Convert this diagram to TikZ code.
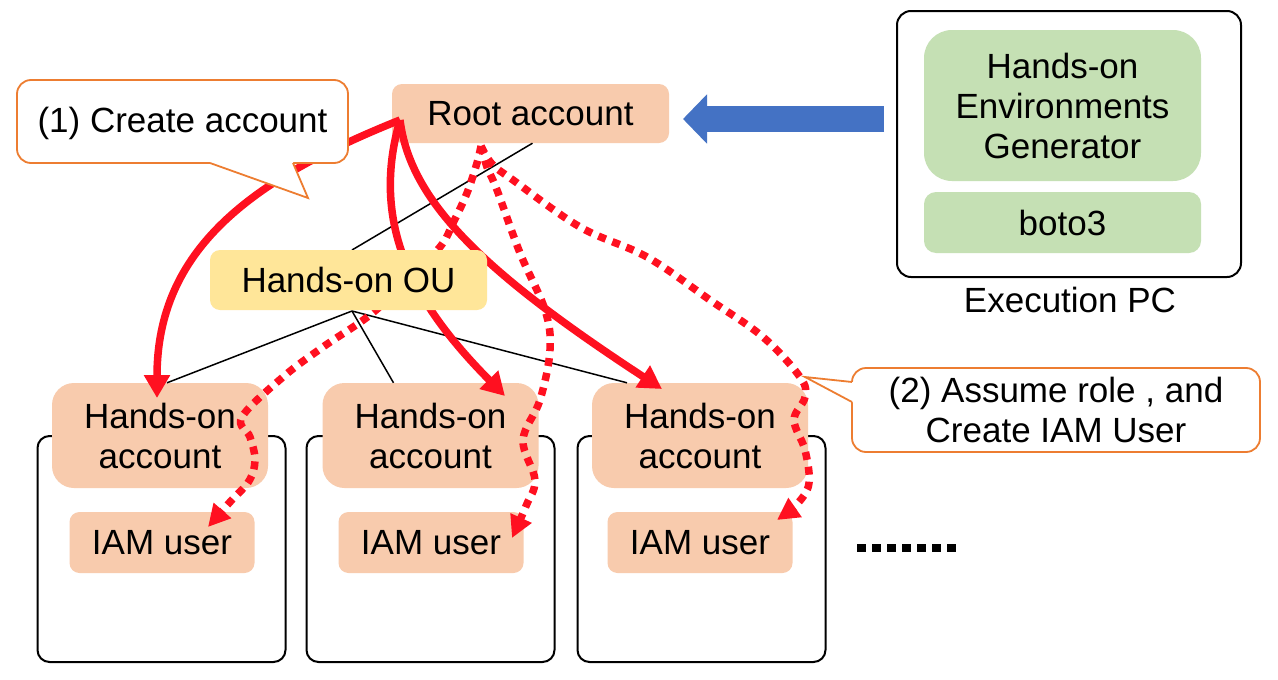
\documentclass[tikz,border=0pt]{standalone}
\usepackage{fontspec}
\setmainfont{Liberation Sans}
\usetikzlibrary{arrows.meta}
\definecolor{peach}{HTML}{F8CBAD}
\definecolor{ouyellow}{HTML}{FFE699}
\definecolor{pgreen}{HTML}{C5E0B4}
\definecolor{corange}{HTML}{ED7D31}
\definecolor{fblue}{HTML}{4472C4}
\definecolor{ared}{RGB}{255,16,32}
\begin{document}
\begin{tikzpicture}[x=1pt,y=-1pt,
  every node/.style={font=\fontsize{35}{40}\selectfont, inner sep=0pt, align=center},
  accbox/.style={fill=peach, rounded corners=22pt, minimum width=216pt, minimum height=105pt},
  iambox/.style={fill=peach, rounded corners=10pt, minimum width=185pt, minimum height=61pt},
  contbox/.style={draw=black, line width=2pt, fill=white, rounded corners=12pt, minimum width=248pt, minimum height=226pt},
  treeline/.style={draw=black, line width=1.5pt},
  createarrow/.style={draw=ared, line width=7.5pt, -{Triangle[length=23pt,width=25pt]}},
  rolearrow/.style={draw=ared, line width=7.5pt, dash pattern=on 8pt off 7pt, -{Triangle[length=22pt,width=22pt]}},
  callout/.style={draw=corange, line width=1.8pt, fill=white, rounded corners=14pt},
  pointer/.style={draw=corange, line width=1.8pt, line join=miter}
]
\useasboundingbox (0,0) rectangle (1278,680);
\fill[white] (0,0) rectangle (1278,680);

% containers
\node[contbox] (c1) at (161.5,549) {};
\node[contbox] (c2) at (430.5,549) {};
\node[contbox] (c3) at (701.5,549) {};

% accounts and IAM users
\node[accbox] (a1) at (160,435.5) {Hands-on\\account};
\node[accbox] (a2) at (430.5,435.5) {Hands-on\\account};
\node[accbox] (a3) at (700,435.5) {Hands-on\\account};
\node[iambox] (u1) at (162,542.5) {IAM user};
\node[iambox] (u2) at (431,542.5) {IAM user};
\node[iambox] (u3) at (700,542.5) {IAM user};

% root account
\node[fill=peach, rounded corners=10pt, minimum width=277pt, minimum height=59pt] (root) at (530.5,113.5) {Root account};

% tree lines
\coordinate (out) at (352,250);
\coordinate (oub) at (352,311);
\draw[treeline] ([xshift=2pt]root.south) -- (out);
\draw[treeline] (oub) -- ([xshift=7pt]a1.north);
\draw[treeline] (oub) -- ([xshift=-37pt]a2.north);
\draw[treeline] (oub) -- ([xshift=-73pt]a3.north);

% create account arrows
\coordinate (rs) at (400,120);
\coordinate (e1) at (157,398);
\coordinate (e2) at (505,396);
\coordinate (e3) at (662,389);
\draw[createarrow] (rs) .. controls (250,180) and (157,250) .. (e1);
\draw[createarrow] (rs) .. controls (368,230) and (420,310) .. (e2);
\draw[createarrow] (rs) .. controls (410,200) and (480,270) .. (e3);

% assume role arrows
\coordinate (ds) at (481,146);
\coordinate (d1e) at (208,527);
\coordinate (d2e) at (512,538);
\coordinate (d3e) at (777,520);
\draw[rolearrow] plot[smooth, tension=0.6] coordinates {(ds) (477,163) (467,193) (453,223) (440,247) (405,282) (370,315) (323,347) (283,377) (242,417) (250,437) (255,460) (249,481) (230,502) (d1e)};
\draw[rolearrow] plot[smooth, tension=0.6] coordinates {(ds) (487,167) (497,190) (520,253) (545,310) (550,350) (540,400) (523,440) (535,480) (526,506) (d2e)};
\draw[rolearrow] plot[smooth, tension=0.6] coordinates {(ds) (492,164) (513,180) (580,227) (647,257) (710,300) (763,337) (800,377) (805,397) (794,420) (805,450) (809,483) (798,503) (d3e)};

% OU on top
\node[fill=ouyellow, rounded corners=10pt, minimum width=277pt, minimum height=60pt] (ou) at (348.5,280) {Hands-on OU};

% callout 1
\node[callout, minimum width=331pt, minimum height=83pt] (co1) at (182.5,121.5) {};
\node (co1t) at (182.5,123) {(1) Create account};
\coordinate (p1a) at (210,163);
\coordinate (p1t) at (308,198);
\coordinate (p1b) at (293,163);
\fill[white] (210,160) -- (p1a) -- (p1t) -- (p1b) -- (293,160) -- cycle;
\draw[pointer] (p1a) -- (p1t) -- (p1b);

% callout 2
\node[callout, minimum width=408pt, minimum height=84pt] (co2) at (1056,410) {(2) Assume role , and\\Create IAM User};
\coordinate (p2a) at (852,382);
\coordinate (p2t) at (805,377);
\coordinate (p2b) at (852,402);
\fill[white] (855,382) -- (p2a) -- (p2t) -- (p2b) -- (855,402) -- cycle;
\draw[pointer] (p2a) -- (p2t) -- (p2b);

% execution PC
\node[draw=black, line width=2pt, rounded corners=14pt, minimum width=344pt, minimum height=266pt] (pc) at (1069,144) {};
\node[fill=pgreen, rounded corners=28pt, minimum width=277pt, minimum height=151pt] (gen) at (1062.5,105.5) {Hands-on\\Environments\\Generator};
\node[fill=pgreen, rounded corners=12pt, minimum width=277pt, minimum height=61pt] (boto) at (1062.5,222.5) {boto3};
\node (pclabel) at (1070,300) {Execution PC};

% blue arrow
\coordinate (bs) at (884,119);
\coordinate (be) at (683,119);
\draw[fblue, line width=26pt, -{Triangle[length=24pt,width=48pt]}] (bs) -- (be);

% continuation dots
\draw[black, line width=8pt, dash pattern=on 9pt off 6pt] (857,548) -- (956,548);
\end{tikzpicture}
\end{document}
